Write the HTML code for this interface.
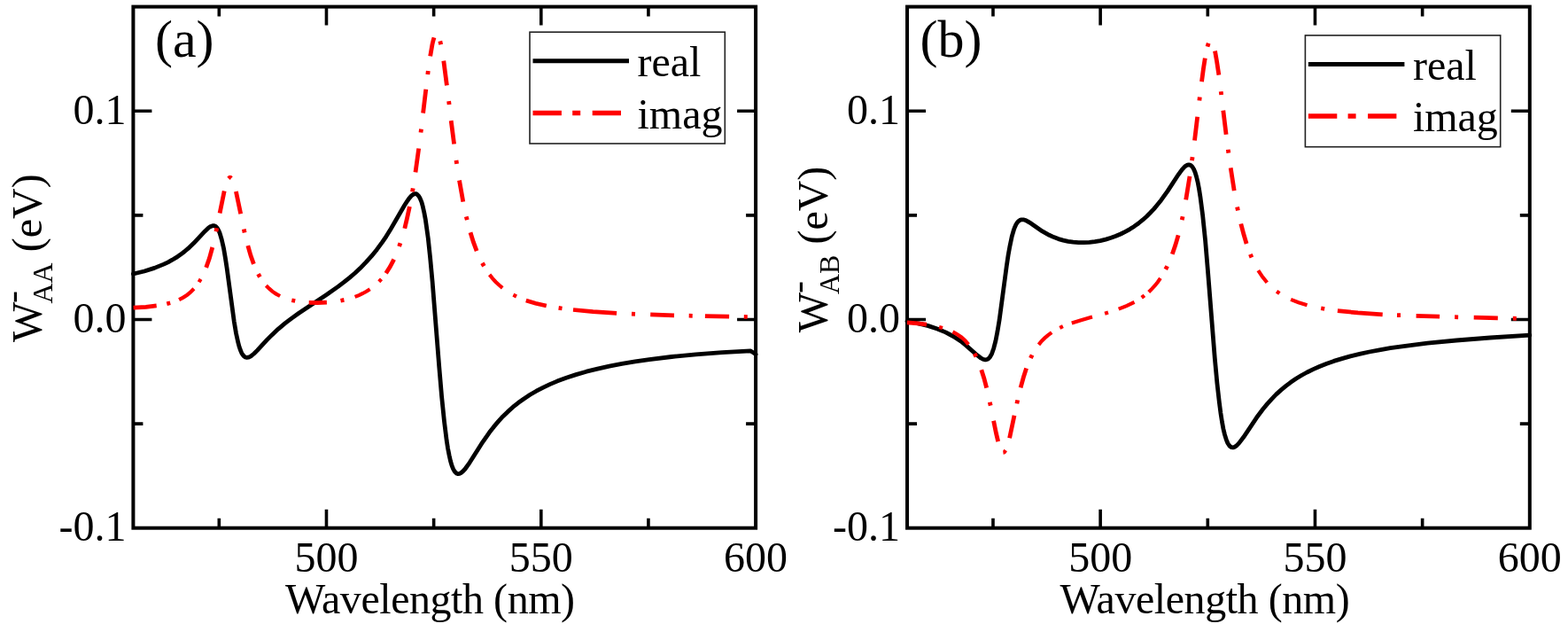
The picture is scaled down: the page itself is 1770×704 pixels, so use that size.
<!DOCTYPE html>
<html><head><meta charset="utf-8"><title>W AA / W AB vs wavelength</title>
<style>html,body{margin:0;padding:0;background:#fff;width:1770px;height:704px;overflow:hidden}svg{display:block}</style>
</head><body>
<svg width="1770" height="704" viewBox="0 0 1770 704" font-family="'Liberation Serif', 'Times New Roman', serif" fill="#000">
<rect width="1770" height="704" fill="#fff"/>
<path d="M247.32 595.7V584.7M247.32 7.6V18.6M368.48 595.7V574.7M368.48 7.6V28.6M489.63 595.7V584.7M489.63 7.6V18.6M610.79 595.7V574.7M610.79 7.6V28.6M731.94 595.7V584.7M731.94 7.6V18.6M150.4 478.08H161.4M853.1 478.08H842.1M150.4 360.46H171.4M853.1 360.46H832.1M150.4 242.84H161.4M853.1 242.84H842.1M150.4 125.22H171.4M853.1 125.22H832.1" stroke="#000" stroke-width="3.6" fill="none"/>
<rect x="150.4" y="7.6" width="702.7" height="588.1" stroke="#000" stroke-width="4.0" fill="none"/>
<path d="M150.4 309.0L162.9 306.0 174.3 302.4 184.8 298.1 189.7 295.8 194.4 293.2 199.1 290.4 203.6 287.3 208.0 284.0 212.3 280.4 218.7 274.3 231.3 260.9 235.7 256.8 238.0 255.4 240.0 254.7 241.8 254.7 243.5 255.5 244.7 256.7 245.9 258.4 247.1 260.6 248.2 263.3 250.3 270.5 252.5 280.1 254.2 290.0 256.1 302.3 264.2 362.3 266.5 376.0 268.8 386.4 270.0 391.0 271.3 394.8 272.6 397.9 274.0 400.2 275.4 401.9 276.9 403.0 278.6 403.4 280.3 403.2 281.7 402.6 283.2 401.8 286.7 399.0 290.6 395.1 301.4 383.4 306.9 377.9 314.2 371.1 321.9 364.7 329.2 359.1 337.4 353.2 368.6 332.5 381.6 323.4 388.5 318.2 394.8 313.1 400.8 308.0 406.4 302.8 413.1 295.9 419.4 288.9 425.5 281.4 431.4 273.4 435.9 266.8 440.4 259.6 456.4 232.0 459.4 227.3 461.8 223.8 464.4 220.9 466.7 219.2 467.8 218.7 468.8 218.6 469.8 218.7 470.7 219.2 472.5 220.9 474.2 223.8 475.9 227.9 477.4 233.4 478.9 240.2 480.4 248.3 483.3 269.0 485.6 290.7 488.1 317.6 495.8 414.5 498.6 447.4 501.5 475.5 504.2 497.2 505.6 506.1 507.1 513.7 508.5 520.0 510.0 525.1 511.6 529.1 513.3 532.0 515.1 533.8 516.0 534.3 516.9 534.6 518.7 534.4 520.6 533.4 522.7 531.6 525.1 529.0 530.2 521.8 544.8 498.8 552.5 487.8 557.5 481.4 562.6 475.4 567.8 469.7 573.3 464.4 579.1 459.2 585.2 454.3 591.7 449.7 598.4 445.3 605.4 441.2 612.8 437.3 620.6 433.6 628.9 430.1 639.2 426.3 650.3 422.6 662.0 419.2 674.5 416.1 687.8 413.1 702.0 410.4 717.0 407.9 732.9 405.6 758.2 402.5 785.6 399.8 815.2 397.6 847.0 395.8 851.0 398.2 853.1 399.8" stroke="#000" stroke-width="4.8" fill="none" stroke-linejoin="round" stroke-linecap="round"/>
<path d="M150.6 347.2L164.7 346.3 176.7 344.9M188.3 342.7L192.2 341.7M258.0 201.3L258.8 200.5 259.6 200.2 260.4 200.4 261.2 201.1M329.3 338.7L333.2 339.5M348.7 341.4L358.7 341.7 368.9 341.2M384.5 339.2L388.4 338.4M593.8 338.9L604.6 342.2 616.8 345.0M630.6 347.4L634.5 348.0M647.0 349.5L669.4 351.6 696.1 353.3M713.0 354.1L717.0 354.3M734.2 354.9L761.0 355.8M777.7 356.2L781.7 356.3M795.9 356.6L823.1 357.1M839.8 357.4L843.8 357.5" stroke="#f00" stroke-width="4.7" fill="none"/>
<path d="M202.1 338.1L206.9 335.6 211.3 332.7 215.3 329.5 218.9 325.8M224.6 318.3L226.6 314.9M300.4 322.2L303.9 325.7 307.6 328.9 311.7 331.6 316.1 334.0M400.6 334.9L405.2 333.1 409.6 331.0 413.7 328.8 417.6 326.3M427.8 317.8L430.5 314.9M552.6 309.9L556.0 314.1 559.5 317.9 563.3 321.5 567.2 324.8M579.4 332.7L583.0 334.5" stroke="#f00" stroke-width="4.2" fill="none"/>
<path d="M232.7 301.9L236.4 291.3 239.8 279.0M243.9 261.3L244.8 257.3M248.1 240.6L253.2 215.4M266.4 216.0L271.7 241.2M275.3 258.6L276.1 262.5M279.8 277.2L283.0 288.3 286.4 297.9M291.5 309.1L293.4 312.5M435.7 308.2L440.4 300.9 444.7 292.6M450.6 278.0L451.9 274.2M456.8 257.7L459.6 245.9 462.4 233.0M465.5 216.3L466.2 212.3M469.0 194.4L472.7 167.5M475.0 149.5L475.5 145.6M477.6 127.6L480.8 100.7M482.8 84.0L483.3 80.0M485.7 63.4L487.9 50.5 489.0 45.8 490.0 42.3M496.8 46.4L497.7 50.3M500.8 68.6L504.4 96.4M506.6 114.1L507.1 118.0M509.2 136.1L512.6 162.5M515.0 180.8L515.6 184.9M518.5 203.5L522.8 227.7M526.3 244.3L527.3 248.1M531.0 262.2L534.4 273.2 538.1 283.1M544.4 296.8L546.4 300.3" stroke="#f00" stroke-width="4.8" fill="none"/>
<text x="142.4" y="139.72" text-anchor="end" font-size="48">0.1</text>
<text x="142.4" y="374.96" text-anchor="end" font-size="48">0.0</text>
<text x="142.4" y="610.2" text-anchor="end" font-size="48">-0.1</text>
<text x="368.48" y="644.5" text-anchor="middle" font-size="48">500</text>
<text x="610.79" y="644.5" text-anchor="middle" font-size="48">550</text>
<text x="853.1" y="644.5" text-anchor="middle" font-size="48">600</text>
<text x="322" y="692" font-size="48" letter-spacing="-0.45">Wavelength (nm)</text>
<text transform="translate(46.9 386.05) rotate(-90)" font-size="48">W<tspan font-size="42" dx="-1.15" dy="-19.85">-</tspan><tspan font-size="32" dx="-14.64" dy="32.35">AA</tspan><tspan dy="-12.5"> (eV)</tspan></text>
<text x="175" y="63.5" font-size="60">(a)</text>
<rect x="598" y="36.2" width="220.3" height="125.8" stroke="#222" stroke-width="1.6" fill="none"/>
<path d="M601.5 68.7H710" stroke="#000" stroke-width="5"/>
<path d="M601.5 127.4H701" stroke="#f00" stroke-width="5.5" stroke-dasharray="32.4 12.3 9 13.5"/>
<text x="719.5" y="85.8" font-size="48">real</text>
<text x="719.5" y="144.6" font-size="48">imag</text>
<path d="M1120.98 595.7V584.7M1120.98 7.6V18.6M1242.14 595.7V574.7M1242.14 7.6V28.6M1363.31 595.7V584.7M1363.31 7.6V18.6M1484.47 595.7V574.7M1484.47 7.6V28.6M1605.64 595.7V584.7M1605.64 7.6V18.6M1024.05 478.08H1035.05M1726.8 478.08H1715.8M1024.05 360.46H1045.05M1726.8 360.46H1705.8M1024.05 242.84H1035.05M1726.8 242.84H1715.8M1024.05 125.22H1045.05M1726.8 125.22H1705.8" stroke="#000" stroke-width="3.6" fill="none"/>
<rect x="1024.05" y="7.6" width="702.75" height="588.1" stroke="#000" stroke-width="4.0" fill="none"/>
<path d="M1024.0 362.5L1036.5 364.9 1047.8 367.6 1058.0 371.0 1067.4 374.9 1076.2 379.5 1084.6 385.0 1090.7 389.9 1103.0 400.7 1107.3 404.0 1109.5 405.2 1111.5 405.8 1113.2 405.8 1114.8 405.3 1116.1 404.3 1117.4 402.9 1118.5 401.1 1119.7 398.8 1121.8 392.7 1123.9 384.6 1125.9 374.3 1128.1 361.2 1136.2 300.8 1138.1 287.9 1140.0 277.4 1142.2 266.9 1144.5 259.0 1145.7 255.9 1146.9 253.3 1148.2 251.3 1149.5 249.7 1151.3 248.4 1153.2 247.8 1155.2 247.8 1157.6 248.5 1159.8 249.6 1162.3 251.1 1176.6 260.9 1184.5 265.3 1189.6 267.6 1194.8 269.6 1200.2 271.1 1205.7 272.3 1211.5 273.1 1217.5 273.6 1223.5 273.6 1229.7 273.3 1235.9 272.6 1242.0 271.6 1248.2 270.1 1254.2 268.3 1259.7 266.3 1265.1 264.0 1270.3 261.4 1275.4 258.6 1280.3 255.4 1285.1 252.0 1289.8 248.2 1294.3 244.2 1298.5 240.0 1302.7 235.6 1306.7 230.8 1310.8 225.7 1318.0 215.6 1330.3 196.8 1334.3 191.3 1336.6 188.8 1338.5 187.1 1340.4 186.1 1342.0 185.8 1343.0 186.0 1344.0 186.4 1345.8 188.0 1347.5 190.7 1349.1 194.5 1350.6 199.5 1352.1 205.6 1353.5 213.0 1354.9 221.8 1357.7 243.4 1360.6 271.6 1363.4 305.0 1371.3 404.3 1373.9 432.2 1376.4 454.3 1377.9 465.8 1379.4 475.5 1380.9 483.7 1382.5 490.4 1384.2 495.8 1385.9 500.0 1387.7 502.8 1388.7 503.8 1389.7 504.4 1390.6 504.7 1391.6 504.8 1393.7 504.3 1396.0 502.7 1398.5 500.1 1403.7 493.3 1418.4 471.3 1425.7 461.5 1430.6 455.6 1435.6 450.1 1440.6 444.9 1445.9 440.1 1451.3 435.6 1457.0 431.3 1462.9 427.3 1469.1 423.5 1475.5 420.0 1482.4 416.6 1489.5 413.5 1497.0 410.5 1505.6 407.4 1514.8 404.6 1524.4 401.9 1534.7 399.4 1545.6 397.0 1557.1 394.8 1569.4 392.7 1582.5 390.8 1611.3 387.2 1644.1 384.0 1682.1 381.0 1726.8 378.1" stroke="#000" stroke-width="4.8" fill="none" stroke-linejoin="round" stroke-linecap="round"/>
<path d="M1024.0 363.8L1035.9 364.9 1046.0 366.2M1491.2 347.8L1495.2 348.5M1509.9 350.6L1532.8 352.9 1560.7 354.8M1577.0 355.6L1581.0 355.7M1598.6 356.4L1625.1 357.2M1642.1 357.7L1646.1 357.8M1663.7 358.2L1690.8 358.8M1707.8 359.2L1711.8 359.3" stroke="#f00" stroke-width="4.7" fill="none"/>
<path d="M1060.1 368.9L1064.0 370.0M1075.5 374.4L1080.6 377.2 1085.3 380.5 1089.5 384.3 1093.3 388.6M1132.4 510.6L1133.1 510.5 1133.8 510.1 1135.2 508.0M1172.5 388.9L1175.7 384.9 1179.3 381.4 1183.1 378.1 1187.2 375.1M1196.3 369.9L1199.9 368.2M1209.8 364.4L1219.5 361.4 1233.0 357.6M1247.1 353.7L1251.0 352.5M1262.7 348.6L1272.2 344.9 1280.5 340.8M1288.7 335.8L1291.9 333.4M1296.7 329.4L1300.3 325.9 1303.7 322.2 1306.9 318.2 1309.9 313.9M1420.3 305.1L1425.1 312.3 1430.3 318.8M1441.1 328.7L1444.4 331.0M1457.1 337.9L1465.8 341.3 1475.5 344.3" stroke="#f00" stroke-width="4.2" fill="none"/>
<path d="M1100.1 398.9L1101.9 402.4M1107.8 417.2L1110.8 426.7 1113.7 437.7M1117.3 453.7L1118.2 457.6M1121.6 474.7L1124.5 488.9 1126.7 498.1M1139.6 494.2L1145.0 468.8M1147.9 455.4L1148.7 451.4M1152.1 437.4L1155.3 425.8 1158.6 415.6M1163.4 404.1L1165.1 400.5M1315.8 303.9L1317.6 300.3M1323.3 286.8L1326.8 276.6 1330.1 265.3M1334.2 248.1L1335.1 244.2M1338.7 225.3L1343.0 198.9M1345.5 181.2L1346.1 177.1M1348.5 158.5L1351.7 131.8M1353.9 113.4L1354.3 109.5M1356.5 92.1L1358.5 77.1 1360.3 65.6M1363.0 52.6L1364.2 48.7M1371.5 57.5L1373.5 68.8 1375.9 84.7M1378.2 103.2L1378.7 107.0M1380.8 124.6L1384.1 151.7M1386.3 168.7L1386.8 172.6M1389.2 189.3L1393.2 215.2M1396.6 233.6L1397.4 237.5M1400.8 252.5L1403.9 264.3 1407.1 275.0M1411.4 286.8L1412.9 290.5" stroke="#f00" stroke-width="4.8" fill="none"/>
<text x="1016.05" y="139.72" text-anchor="end" font-size="48">0.1</text>
<text x="1016.05" y="374.96" text-anchor="end" font-size="48">0.0</text>
<text x="1016.05" y="610.2" text-anchor="end" font-size="48">-0.1</text>
<text x="1242.14" y="644.5" text-anchor="middle" font-size="48">500</text>
<text x="1484.47" y="644.5" text-anchor="middle" font-size="48">550</text>
<text x="1726.8" y="644.5" text-anchor="middle" font-size="48">600</text>
<text x="1196.6" y="692" font-size="48" letter-spacing="-0.45">Wavelength (nm)</text>
<text transform="translate(934 375.35) rotate(-90)" font-size="48">W<tspan font-size="42" dx="-1.00" dy="-19.85">-</tspan><tspan font-size="32" dx="-14.99" dy="32.35">AB</tspan><tspan dy="-12.5"> (eV)</tspan></text>
<text x="1038.5" y="63.5" font-size="60">(b)</text>
<rect x="1473.4" y="39.9" width="220.3" height="125.8" stroke="#222" stroke-width="1.6" fill="none"/>
<path d="M1476.9 72.4H1585.4" stroke="#000" stroke-width="5"/>
<path d="M1476.9 131.1H1576.4" stroke="#f00" stroke-width="5.5" stroke-dasharray="32.4 12.3 9 13.5"/>
<text x="1594.9" y="89.5" font-size="48">real</text>
<text x="1594.9" y="148.3" font-size="48">imag</text>
</svg>
</body></html>
